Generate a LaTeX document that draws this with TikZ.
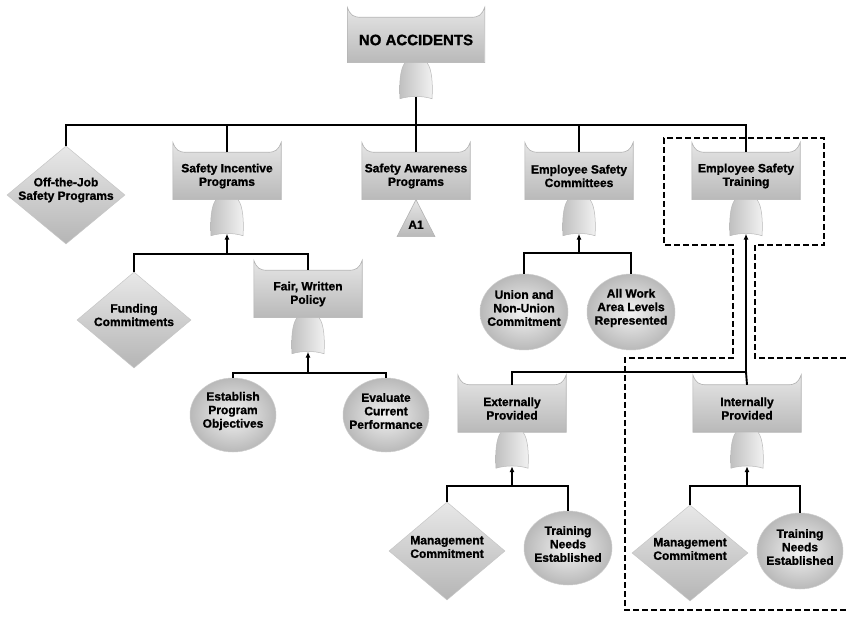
\documentclass[tikz,border=0pt]{standalone}
\usepackage{fontspec}
\setmainfont{Liberation Sans}[BoldFeatures={FakeBold=1.2}]
\usetikzlibrary{shapes.geometric,calc,backgrounds,arrows.meta}
\tikzset{
  x=1pt,y=-1pt,
  lbl/.style={font=\fontsize{12}{13.5}\selectfont\bfseries, align=center, inner sep=0pt, text=black},
  boxnode/.style={lbl, rectangle, minimum width=108pt, minimum height=47pt},
  banfill/.style={top color=gray!20, bottom color=gray!55, draw=gray!60, line width=0.6pt},
  gatefill/.style={left color=gray!50, right color=gray!10, draw=gray!55, line width=0.5pt},
  dia/.style={diamond, inner sep=0pt, top color=gray!18, bottom color=gray!58, draw=gray!45, line width=0.5pt},
  ball/.style={ellipse, inner sep=0pt, inner color=gray!10, outer color=gray!55, draw=gray!40, line width=0.5pt},
  conn/.style={draw=black, line width=1.9pt},
  arr/.style={conn, -{Latex[length=6pt,width=5pt]}},
  dsh/.style={draw=black, line width=1.6pt, dash pattern=on 6pt off 3pt},
}
\newcommand\bannerbg[1]{%
  \begin{scope}[on background layer]
  \path[banfill] (#1.south west) -- ($(#1.north west)+(0,-10)$)
    .. controls ($(#1.north west)+(3,-2)$) and ($(#1.north west)+(6,0)$) .. ($(#1.north west)+(14,0)$)
    -- ($(#1.north east)+(-14,0)$)
    .. controls ($(#1.north east)+(-6,0)$) and ($(#1.north east)+(-3,-2)$) .. ($(#1.north east)+(0,-10)$)
    -- (#1.south east) -- cycle;
  \end{scope}}
\newcommand\gate[1]{%
  \path[gatefill] ($(#1.south)+(-11,0)$)
    .. controls ($(#1.south)+(-16,6)$) and ($(#1.south)+(-17,22)$) .. ($(#1.south)+(-16,36)$)
    .. controls ($(#1.south)+(-6,33)$) and ($(#1.south)+(6,33)$) .. ($(#1.south)+(16,36)$)
    .. controls ($(#1.south)+(17,22)$) and ($(#1.south)+(16,6)$) .. ($(#1.south)+(11,0)$) -- cycle;
  \coordinate (#1-g) at ($(#1.south)+(0,34)$);}
\begin{document}
\begin{tikzpicture}
\useasboundingbox (0,0) rectangle (846,617);
\begin{scope}[on background layer]
  \fill[white] (0,0) rectangle (846,617);
\end{scope}

% ---------- top event ----------
\node[boxnode, minimum width=137pt, minimum height=45pt, font=\fontsize{15}{17}\selectfont\bfseries] (top) at (416,40) {NO ACCIDENTS};
\bannerbg{top}
\gate{top}

% ---------- level 1 ----------
\node[dia, minimum width=118pt, minimum height=98pt] (off) at (66,195) {};
\node[lbl] (offt) at (66,190) {Off-the-Job\\Safety Programs};
\node[boxnode] (sip) at (227,176) {Safety Incentive\\Programs};
\node[boxnode] (sap) at (416,176) {Safety Awareness\\Programs};
\node[boxnode] (esc) at (579,176) {Employee Safety\\Committees};
\node[boxnode] (est) at (746,176) {Employee Safety\\Training};
\foreach \n in {sip,sap,esc,est}{\bannerbg{\n}}
\gate{sip}\gate{esc}\gate{est}

% transfer triangle
\path[banfill] (sap.south) -- ($(sap.south)+(-19,37)$) -- ($(sap.south)+(19,37)$) -- cycle;
\node[lbl] (a1) at ($(sap.south)+(0,25)$) {A1};

% ---------- Safety incentive subtree ----------
\node[dia, minimum width=114pt, minimum height=96pt] (fund) at (134,320) {};
\node[lbl] (fundt) at (134,315) {Funding\\Commitments};
\node[boxnode] (fwp) at (308,294) {Fair, Written\\Policy};
\bannerbg{fwp}
\gate{fwp}
\node[ball, minimum width=86pt, minimum height=74pt] (estab) at (233,415) {};
\node[lbl] (estabt) at (233,411) {Establish\\Program\\Objectives};
\node[ball, minimum width=86pt, minimum height=74pt] (eval) at (386,415) {};
\node[lbl] (evalt) at (386,411) {Evaluate\\Current\\Performance};

% ---------- Committees subtree ----------
\node[ball, minimum width=88pt, minimum height=76pt] (union) at (524,312) {};
\node[lbl] (uniont) at (524,308) {Union and\\Non-Union\\Commitment};
\node[ball, minimum width=88pt, minimum height=76pt] (allw) at (631,312) {};
\node[lbl] (allwt) at (631,308) {All Work\\Area Levels\\Represented};

% ---------- Training subtree ----------
\node[boxnode] (ext) at (512,408.5) {Externally\\Provided};
\node[boxnode] (int) at (747,408.5) {Internally\\Provided};
\bannerbg{ext}\bannerbg{int}
\gate{ext}\gate{int}
\node[dia, minimum width=116pt, minimum height=98pt] (mg1) at (447,551) {};
\node[lbl] (mg1t) at (447,547) {Management\\Commitment};
\node[ball, minimum width=88pt, minimum height=74pt] (tn1) at (568,548) {};
\node[lbl] (tn1t) at (568,544) {Training\\Needs\\Established};
\node[dia, minimum width=116pt, minimum height=96pt] (mg2) at (690,553) {};
\node[lbl] (mg2t) at (690,549) {Management\\Commitment};
\node[ball, minimum width=86pt, minimum height=76pt] (tn2) at (800,551) {};
\node[lbl] (tn2t) at (800,547) {Training\\Needs\\Established};

% ---------- connectors ----------
\coordinate (b0) at (416,125);
\draw[conn] (top-g) -- (b0);
\draw[conn] (off.north) |- (b0) -| (est.north);
\foreach \n in {sip,sap,esc}{\draw[conn] (\n.north) -- (\n.north |- b0);}

\coordinate (b1) at (227,254);
\draw[conn] (fund.north) |- (b1) -| (fwp.north);
\draw[arr] (b1) -- (sip-g);

\coordinate (b2) at (308,373);
\draw[conn] (estab.north) |- (b2) -| (eval.north);
\draw[arr] (b2) -- (fwp-g);

\coordinate (b3) at (579,253);
\draw[conn] (union.north) |- (b3) -| (allw.north);
\draw[arr] (b3) -- (esc-g);

\coordinate (b4) at (746,372);
\draw[conn] (ext.north) |- (b4) -- (int.north);
\draw[arr] (b4) -- (est-g);

\coordinate (b5) at (512,486);
\draw[conn] (mg1.north) |- (b5) -| (tn1.north);
\draw[arr] (b5) -- (ext-g);

\coordinate (b6) at (747,486);
\draw[conn] (mg2.north) |- (b6) -| (tn2.north);
\draw[arr] (b6) -- (int-g);

% ---------- dashed boundary ----------
\draw[dsh] (846,358) -- (755,358) -- (755,245) -- (824,245) -- (824,138) -- (664,138) -- (664,245) -- (733,245) -- (733,358) -- (625,358) -- (625,610) -- (846,610);
\end{tikzpicture}
\end{document}
